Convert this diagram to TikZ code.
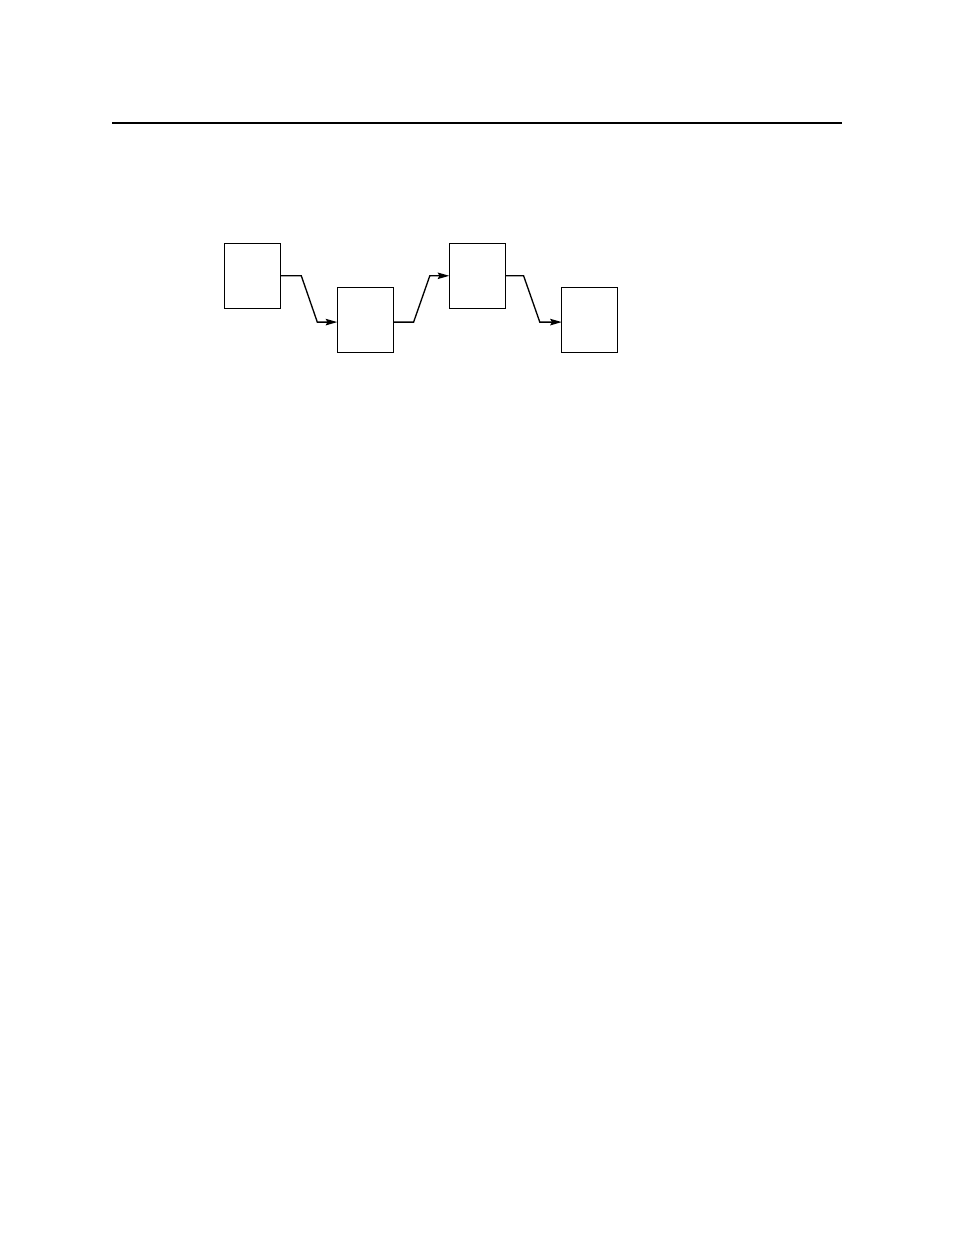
\documentclass[tikz,border=0pt]{standalone}
\usetikzlibrary{arrows.meta,calc}
\begin{document}
\begin{tikzpicture}[x=0.6439pt,y=-0.6439pt,
  blk/.style={draw,line width=0.6pt,rectangle,inner sep=0pt,outer sep=0pt,minimum width=36.06pt,minimum height=41.85pt},
  conn/.style={draw,line width=0.85pt,-{Stealth[length=7.5pt,width=4.2pt,inset=1.2pt]}},
  rulestyle/.style={line width=0.75pt}]
\useasboundingbox (0,0) rectangle (954,1235);
\coordinate (r1) at (112,123);
\coordinate (r2) at (842,123);
\draw[rulestyle] (r1) -- (r2);
\node[blk] (b1) at (252,275.8) {};
\node[blk] (b2) at (365.3,320.4) {};
\node[blk] (b3) at (477.3,275.8) {};
\node[blk] (b4) at (589.8,320.4) {};
\draw[conn] (b1.east) -- ++(21.3,0) -- ($(b2.west)+(-20,1.7)$) -- ($(b2.west)+(0,1.7)$);
\draw[conn] ($(b2.east)+(0,1.7)$) -- ++(20.3,0) -- ($(b3.west)+(-19.5,0)$) -- (b3.west);
\draw[conn] (b3.east) -- ++(18.3,0) -- ($(b4.west)+(-22,1.7)$) -- ($(b4.west)+(0,1.7)$);
\end{tikzpicture}
\end{document}
